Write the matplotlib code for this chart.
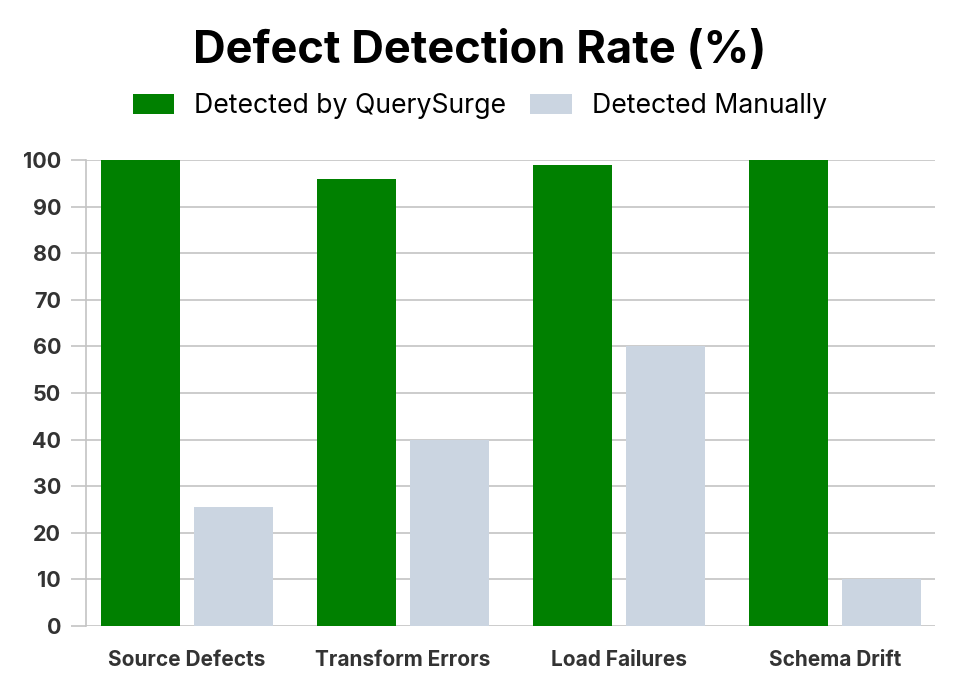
import numpy as np
import matplotlib
matplotlib.use("Agg")
import matplotlib.pyplot as plt

plt.rcParams['font.family'] = ['Inter', 'DejaVu Sans']

# Data
categories = ["Source Defects", "Transform Errors", "Load Failures", "Schema Drift"]
querysurge = [100, 96, 99, 100]
manual = [25.5, 40, 60, 10]
series_labels = ["Detected by QuerySurge", "Detected Manually"]

green = "#008000"
slate = "#cbd5e1"
grid_col = "#c4c4c4"
text_col = "#333333"

fig = plt.figure(figsize=(9.6, 7), dpi=100)
ax = fig.add_axes([86 / 960, 74 / 700, (935 - 86) / 960, (626 - 160) / 700])

x = np.arange(len(categories))
w = 0.366
off = 0.215
b1 = ax.bar(x - off, querysurge, w, color=green, label=series_labels[0], zorder=3)
b2 = ax.bar(x + off, manual, w, color=slate, label=series_labels[1], zorder=3)

ax.set_xlim(-0.468, 3.463)
ax.set_ylim(0, 100)
ax.set_yticks(range(0, 101, 10))
ax.set_xticks(x)
ax.set_xticklabels(categories, fontsize=15, fontweight='bold', color=text_col)
ax.tick_params(axis='x', length=0, pad=17)
ax.tick_params(axis='y', length=11, width=1.2, color=grid_col, pad=7,
               labelsize=15.5, labelcolor=text_col)
for lbl in ax.get_yticklabels():
    lbl.set_fontweight('bold')

ax.grid(axis='y', color=grid_col, linewidth=1.2, zorder=0)
for s in ['top', 'right', 'bottom']:
    ax.spines[s].set_visible(False)
ax.spines['left'].set_color(grid_col)
ax.spines['left'].set_linewidth(1.2)

fig.text(0.5, 1 - 51 / 700, "Defect Detection Rate (%)", ha='center', va='center',
         fontsize=32.5, fontweight='bold', color='black')

fig.legend(handles=[b1, b2], labels=series_labels, loc='center',
           bbox_to_anchor=(0.5, 1 - 106 / 700), ncol=2, frameon=False,
           fontsize=19.2, handlelength=1.57, handleheight=0.78,
           handletextpad=0.75, columnspacing=0.9)

fig.savefig("out.png", dpi=100)
